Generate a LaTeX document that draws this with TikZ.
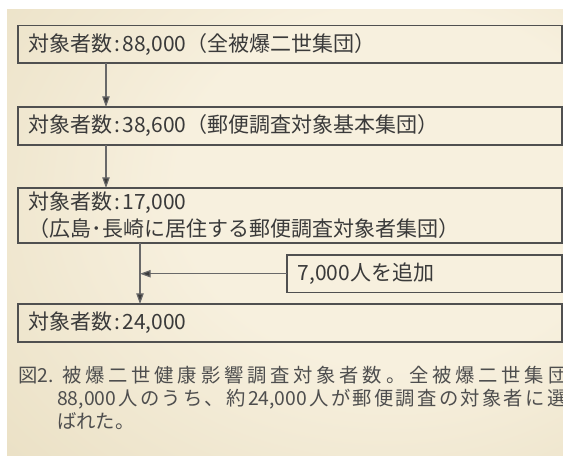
\documentclass[tikz,border=0pt]{standalone}
\usepackage{fontspec}
\setmainfont{Noto Sans CJK JP}
\usetikzlibrary{arrows.meta}
\definecolor{pin}{RGB}{247,240,222}
\definecolor{pmid}{RGB}{235,225,198}
\definecolor{pout}{RGB}{204,193,158}
\definecolor{boxline}{RGB}{80,80,80}
\definecolor{arrline}{RGB}{105,105,105}
\definecolor{txt}{RGB}{58,58,58}
\definecolor{captxt}{RGB}{78,78,78}
\pgfdeclareradialshading{panelshade}{\pgfpoint{14bp}{7bp}}{color(0bp)=(pin); color(20bp)=(pin); color(42bp)=(pmid); color(78bp)=(pout)}
\def\lsp#1{\ifx\relax#1\else#1\kern\lspk\relax\expandafter\lsp\fi}
\newdimen\lspk
\newcommand\cln{\kern1.5pt:\kern1.5pt}
\tikzset{
  boxnode/.style={draw=boxline, line width=1pt, rectangle, anchor=north west,
    inner xsep=8pt, inner ysep=0pt, outer sep=0pt, text=txt, align=left,
    font=\fontsize{15.75}{20.25}\selectfont},
  arr/.style={draw=arrline, line width=0.9pt, -{Triangle[length=8pt,width=5.5pt,fill=txt]}},
  captext/.style={inner sep=0pt, anchor=base west, text=captxt, font=\fontsize{14.5}{17}\selectfont}
}
\begin{document}
\begin{tikzpicture}[x=0.75pt,y=-0.75pt]
\useasboundingbox (0,0) rectangle (563,456);
\clip (0,0) rectangle (563,456);
\fill[white] (0,0) rectangle (563,456);
\shade[shading=panelshade] (7,10) rectangle (563,456);
% boxes
\node[boxnode, text width=392pt, minimum height=28.1pt] (b1) at (18,25.5) {対象者数\cln 88,000（全被爆二世集団）};
\node[boxnode, text width=392pt, minimum height=28.5pt] (b2) at (18,107) {対象者数\cln 38,600（郵便調査対象基本集団）};
\node[boxnode, text width=392pt, minimum height=41.25pt] (b3) at (18,188) {対象者数\cln 17,000\\[7pt]\kern-0.45em（広島･長崎に居住する郵便調査対象者集団）};
\node[boxnode, text width=392pt, minimum height=28.5pt] (b4) at (18,304) {対象者数\cln 24,000};
\node[boxnode, text width=190.25pt, minimum height=28.1pt] (side) at (287,255) {7,000人を追加};
% arrow columns
\coordinate (xa) at (106,0);
\coordinate (xb) at (140,0);
\draw[arr] (b1.south -| xa) -- (b2.north -| xa);
\draw[arr] (b2.south -| xa) -- (b3.north -| xa);
\draw[arr] (b3.south -| xb) -- (b4.north -| xb);
\draw[arr] (side.west) -- (side.west -| xb);
% caption
\node[captext] (c0) at (18,382) {図2.};
\node[captext] (c1) at (62,382) {\lspk=2.85pt\lsp 被爆二世健康影響調査対象者数。全被爆二世集団\relax};
\node[captext] (c2) at (57,405) {\lspk=1.7pt\lsp {88,000}人のうち、約{24,000}人が郵便調査の対象者に選\relax};
\node[captext] (c3) at (57,428) {ばれた。};
\end{tikzpicture}
\end{document}
